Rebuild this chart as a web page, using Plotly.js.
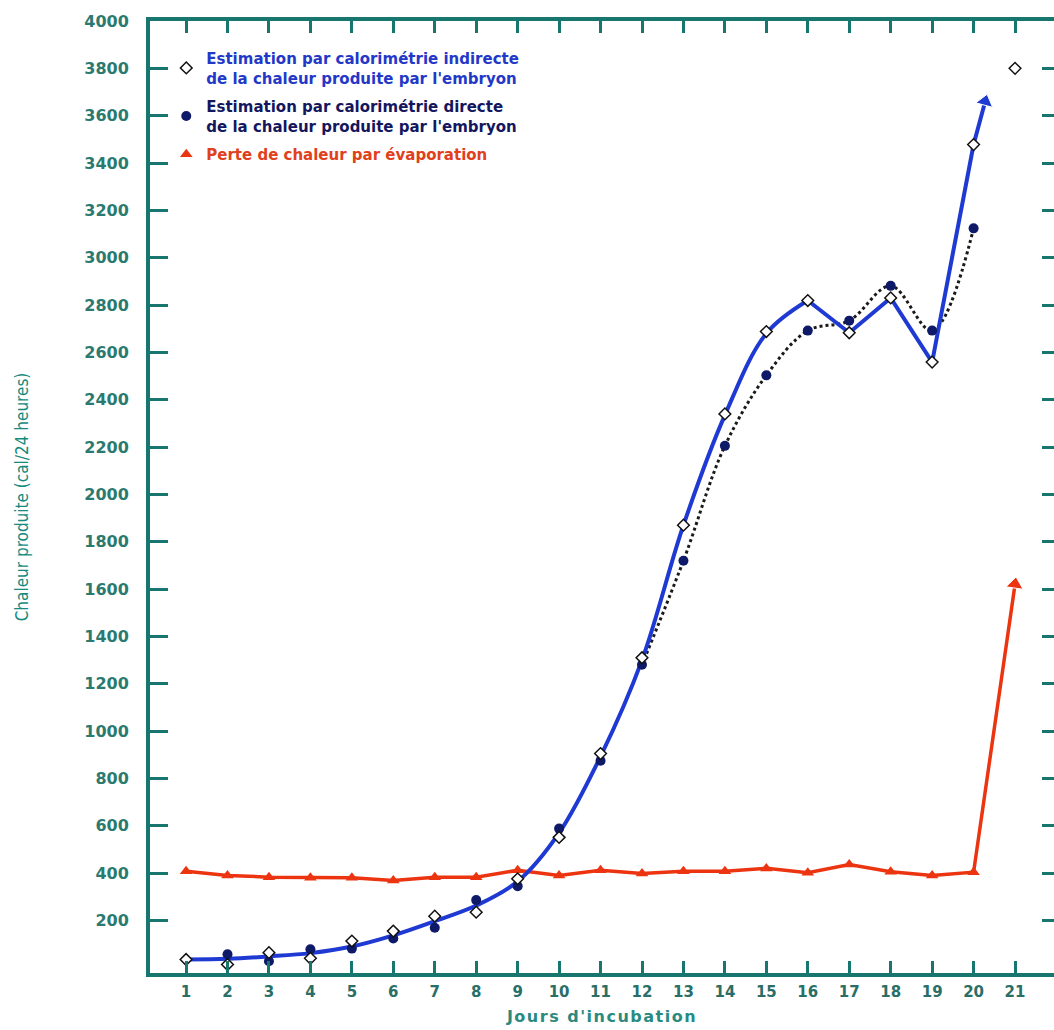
<!DOCTYPE html>
<html><head><meta charset="utf-8">
<script src="https://cdn.plot.ly/plotly-3.0.1.min.js"></script>
<style>
html,body{margin:0;padding:0;background:#fff;overflow:hidden}
#chart .g-xtitle text{letter-spacing:1.5px}
</style>
</head><body><div id="chart" style="width:1054px;height:1030px"></div>
<script>
// ---- data ----
const days = [1,2,3,4,5,6,7,8,9,10,11,12,13,14,15,16,17,18,19,20];
const indirect = [35,14,64,40,113,155,218,235,376,551,905,1310,1870,2340,2688,2819,2683,2830,2559,3478];
const direct = [null,57,28,78,81,124,169,286,345,588,875,1280,1720,2205,2503,2692,2734,2881,2692,3124];
const evaporation = [408,390,383,380,380,369,383,383,412,390,412,398,408,408,420,402,436,406,390,404];
const lastDay = 21;
const indirectLastDay = 3800;
const evaporationLastDay = 1620;
const curveDays = [1,2,3,4,5,6,7,8,9,10,11,12,13,14,15,16,17,18,19,20,20.28];
const curveValues = [35,38,48,62,90,137,197,263,365,570,893,1300,1870,2335,2680,2819,2683,2830,2559,3478,3660];
const xTicks = [1,2,3,4,5,6,7,8,9,10,11,12,13,14,15,16,17,18,19,20,21];
const yTicks = [200,400,600,800,1000,1200,1400,1600,1800,2000,2200,2400,2600,2800,3000,3200,3400,3600,3800,4000];
const legendNames = [
  '<span style="color:#2438c8">Estimation par calorimétrie indirecte<br>de la chaleur produite par l\'embryon</span>',
  '<span style="color:#14165e">Estimation par calorimétrie directe<br>de la chaleur produite par l\'embryon</span>',
  '<span style="color:#e0401c">Perte de chaleur par évaporation</span>'
];

// ---- styles ----
const teal = '#17766e';
const blue = '#1f3ad2';
const red = '#ec3410';
const navy = '#0e1a68';

function arrowSizes(n, s){ const a = new Array(n).fill(0); a[n-1] = s; return a; }

const evapX = days.concat([lastDay]);
const evapY = evaporation.concat([evaporationLastDay]);
const blueTailX = curveDays.slice(15);
const blueTailY = curveValues.slice(15);

const traces = [
  { x: evapX, y: evapY, mode: 'lines+markers', showlegend: false, hoverinfo: 'skip',
    line: {color: red, width: 3.5},
    marker: {symbol: 'triangle-up', angleref: 'previous', size: arrowSizes(evapX.length, 15), color: red, opacity: 1} },
  { x: days, y: evaporation, mode: 'markers', name: legendNames[2], legendrank: 3, legendgroup: 'c',
    marker: {symbol: 'triangle-up', size: 11, color: red} },
  { x: days.slice(11), y: direct.slice(11), mode: 'lines', showlegend: false, hoverinfo: 'skip',
    line: {color: '#1a1a1a', width: 3, dash: 'dot', shape: 'spline', smoothing: 1} },
  { x: curveDays.slice(0,16), y: curveValues.slice(0,16), mode: 'lines', showlegend: false, hoverinfo: 'skip',
    line: {color: blue, width: 4, shape: 'spline', smoothing: 1} },
  { x: blueTailX, y: blueTailY, mode: 'lines+markers', showlegend: false, hoverinfo: 'skip',
    line: {color: blue, width: 4},
    marker: {symbol: 'triangle-up', angleref: 'previous', size: arrowSizes(blueTailX.length, 15), color: blue, opacity: 1} },
  { x: days, y: direct, mode: 'markers', name: legendNames[1], legendrank: 2, legendgroup: 'b',
    marker: {symbol: 'circle', size: 10, color: navy} },
  { x: days.concat([lastDay]), y: indirect.concat([indirectLastDay]), mode: 'markers', name: legendNames[0], legendrank: 1, legendgroup: 'a',
    marker: {symbol: 'diamond', size: 9, color: '#ffffff', line: {color: '#111111', width: 1.5}} },
  { x: [], y: [], yaxis: 'y2', showlegend: false, hoverinfo: 'skip' }
];

const layout = {
  width: 1054, height: 1030,
  margin: {l: 150, r: 0, t: 21, b: 57},
  paper_bgcolor: '#ffffff', plot_bgcolor: '#ffffff',
  showlegend: true,
  legend: {x: 0.018, y: 0.978, xanchor: 'left', yanchor: 'top', bgcolor: 'rgba(0,0,0,0)',
    font: {family: 'DejaVu Sans, Verdana, sans-serif', size: 15, weight: 'bold'},
    itemwidth: 30, traceorder: 'grouped', tracegroupgap: 6},
  xaxis: {
    range: [0.13, 21.94], tickvals: xTicks, ticktext: xTicks.map(String),
    ticks: 'inside', ticklen: 12, tickwidth: 3, tickcolor: teal,
    showline: true, linewidth: 4, linecolor: teal, mirror: 'ticks',
    showgrid: false, zeroline: false, ticklabelstandoff: 2,
    tickfont: {family: 'DejaVu Sans, Verdana, sans-serif', size: 15, color: '#2a6e68', weight: 'bold'},
    title: {text: "Jours d'incubation", standoff: 12,
      font: {family: 'DejaVu Sans, Verdana, sans-serif', size: 16, color: '#2a8a80', weight: 'bold'}}
  },
  yaxis: {
    range: [-22, 4000], tickvals: yTicks, ticktext: yTicks.map(String),
    ticks: 'inside', ticklen: 18, tickwidth: 3, tickcolor: teal,
    showline: true, linewidth: 4, linecolor: teal,
    showgrid: false, zeroline: false, ticklabelstandoff: 14,
    tickfont: {family: 'DejaVu Sans, Verdana, sans-serif', size: 16, color: '#2a7a70', weight: 'bold'},
    title: {text: 'Chaleur produite (cal/24 heures)', standoff: 52,
      font: {family: 'DejaVu Sans Condensed, Liberation Sans Narrow, sans-serif', size: 17, color: '#178a7e'}}
  },
  yaxis2: {
    overlaying: 'y', side: 'right', range: [-22, 4000], tickvals: yTicks,
    ticks: 'inside', ticklen: 12, tickwidth: 3, tickcolor: teal,
    showticklabels: false, showline: false, showgrid: false, zeroline: false
  }
};

Plotly.newPlot('chart', traces, layout, {displayModeBar: false, staticPlot: true});
</script>
</body></html>
